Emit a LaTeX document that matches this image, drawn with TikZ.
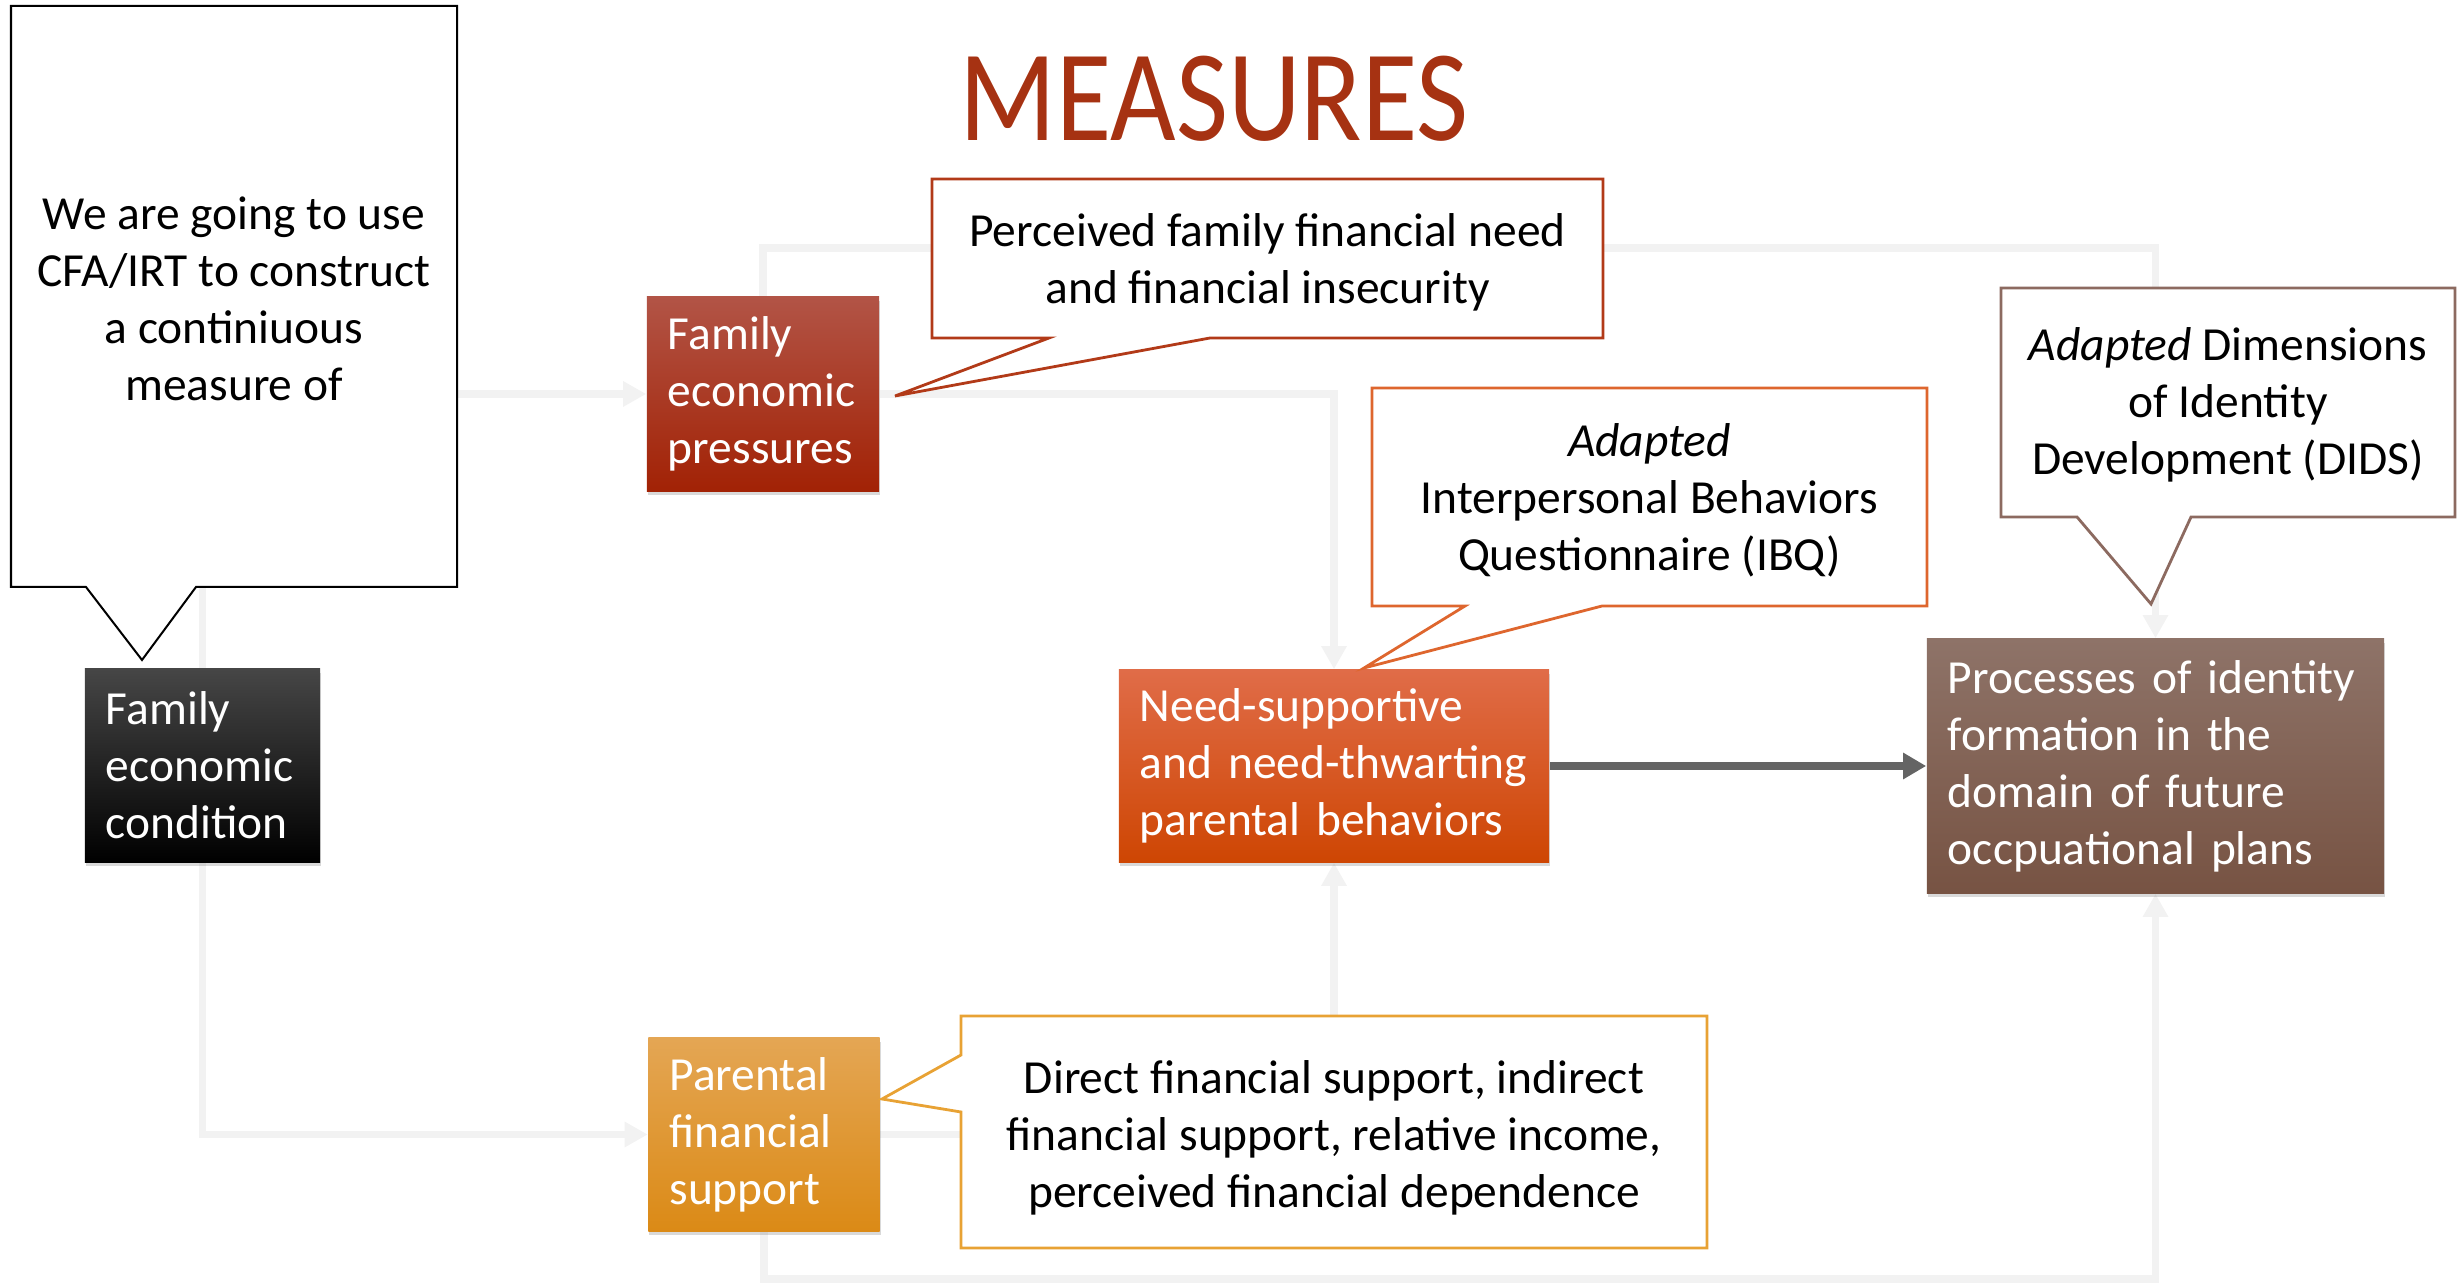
\documentclass[tikz,border=0pt]{standalone}
\usepackage{fontspec}
\setmainfont{Carlito}
\usetikzlibrary{arrows.meta,shadows,backgrounds}

\definecolor{flowgray}{RGB}{242,242,242}
\definecolor{arrowgray}{RGB}{100,100,100}
\definecolor{titlered}{RGB}{166,50,18}
\definecolor{condTop}{RGB}{70,70,70}
\definecolor{pressTop}{RGB}{178,84,70}
\definecolor{pressBot}{RGB}{162,34,5}
\definecolor{needTop}{RGB}{224,108,72}
\definecolor{needBot}{RGB}{206,70,3}
\definecolor{procTop}{RGB}{142,115,104}
\definecolor{procBot}{RGB}{119,83,67}
\definecolor{parentTop}{RGB}{228,166,84}
\definecolor{parentBot}{RGB}{219,138,22}
\definecolor{lineRed}{RGB}{178,58,24}
\definecolor{lineOrange}{RGB}{222,102,46}
\definecolor{lineBrown}{RGB}{140,106,96}
\definecolor{lineGold}{RGB}{232,162,52}

\tikzset{
  txt/.style={font=\fontsize{13.5}{16.2}\selectfont},
  box/.style={txt, text=white, align=left, inner xsep=0.21cm, inner ysep=0pt,
    drop shadow={shadow xshift=0.01cm, shadow yshift=-0.04cm, opacity=0.3}},
  bubble/.style={fill=white, line width=0.028cm, line join=miter},
  bubbletext/.style={txt, align=center},
  lightflow/.style={draw=flowgray, line width=0.075cm,
    -{Triangle[length=0.23cm,width=0.24cm]}},
  mainflow/.style={draw=arrowgray, line width=0.08cm,
    -{Triangle[length=0.23cm,width=0.25cm]}},
}

\begin{document}
\begin{tikzpicture}[x=0.01cm, y=-0.01cm]
\useasboundingbox (0,0) rectangle (2458,1286);

\node[anchor=base, text=titlered, font=\fontsize{37}{40}\selectfont]
  (measures) at (1214,141) {\scalebox{0.87}[1]{MEASURES}};

\node[box, top color=condTop, middle color=black, bottom color=black,
  minimum width=2.35cm, minimum height=1.93cm, text width=1.93cm]
  (cond) at (202.5,765.5) {Family\\economic\\condition};
\node[box, top color=pressTop, bottom color=pressBot,
  minimum width=2.32cm, minimum height=1.94cm, text width=1.90cm]
  (press) at (763,394) {Family\\economic\\pressures};
\node[box, top color=needTop, bottom color=needBot,
  minimum width=4.30cm, minimum height=1.92cm, text width=3.88cm]
  (need) at (1334,766) {Need-supportive\\and need-thwarting\\parental behaviors};
\node[box, top color=procTop, bottom color=procBot,
  minimum width=4.57cm, minimum height=2.54cm, text width=4.15cm]
  (proc) at (2155.5,766) {Processes of identity\\formation in the\\domain of future\\occpuational plans};
\node[box, top color=parentTop, bottom color=parentBot,
  minimum width=2.31cm, minimum height=1.93cm, text width=1.89cm]
  (parent) at (764,1134.5) {Parental\\financial\\support};

\begin{scope}[on background layer]
\draw[lightflow] (cond.north) |- (press.west);
\draw[lightflow] (cond.south) |- (parent.west);
\draw[lightflow] (press.north) -- ++(0,-48) -| (proc.north);
\draw[lightflow] (press.east) -| (need.north);
\draw[lightflow] (parent.east) -| (need.south);
\draw[lightflow] (parent.south) -- ++(0,47) -| (proc.south);
\end{scope}

\draw[mainflow] (need.east) -- (proc.west);

\path[bubble, draw=black, line width=0.02cm]%
(11,6)--(457,6)--(457,587)--(196,587)--(142,660)--(86,587)--(11,587)--cycle;
\path[bubble, draw=lineRed]%
(932,179)--(1603,179)--(1603,338)--(1210,338)--(895,396)--(1049,338)--(932,338)--cycle;
\path[bubble, draw=lineOrange]%
(1372,388)--(1927,388)--(1927,606)--(1602,606)--(1364,668)--(1465,606)--(1372,606)--cycle;
\path[bubble, draw=lineBrown]%
(2001,288)--(2455,288)--(2455,517)--(2191,517)--(2151,604)--(2077,517)--(2001,517)--cycle;
\path[bubble, draw=lineGold]%
(961,1016)--(1707,1016)--(1707,1248)--(961,1248)--(961,1112)--(882,1099)--(961,1055)--cycle;

\node[bubbletext] (cfa) at (234,299) {We are going to use\\CFA/IRT to construct\\a continiuous\\measure of};
\node[bubbletext] (need note) at (1267.5,262) {Perceived family financial need\\and financial insecurity};
\node[bubbletext] (ibq) at (1649.5,500) {\textit{Adapted}\\Interpersonal Behaviors\\Questionnaire (IBQ)};
\node[bubbletext] (dids) at (2228,405) {\textit{Adapted} Dimensions\\of Identity\\Development (DIDS)};
\node[bubbletext] (support note) at (1334,1138) {Direct financial support, indirect\\financial support, relative income,\\perceived financial dependence};

\end{tikzpicture}
\end{document}
